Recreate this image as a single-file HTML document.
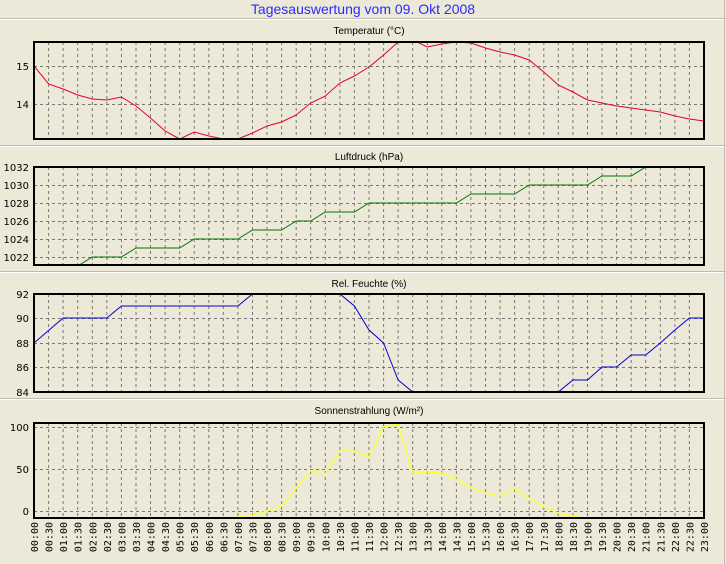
<!DOCTYPE html>
<html><head><meta charset="utf-8"><style>
html,body{margin:0;padding:0;background:#ECE9D8;}
svg{display:block;font-family:"Liberation Sans",sans-serif;}
</style></head><body>
<svg width="726" height="564" viewBox="0 0 726 564" xmlns="http://www.w3.org/2000/svg">
<rect width="726" height="564" fill="#ECE9D8"/>
<defs>
<clipPath id="c1"><rect x="34" y="42" width="670" height="97"/></clipPath>
<clipPath id="c2"><rect x="34" y="167" width="670" height="98"/></clipPath>
<clipPath id="c3"><rect x="34" y="294" width="670" height="98"/></clipPath>
<clipPath id="c4"><rect x="34" y="423" width="670" height="95"/></clipPath>
<g id="vg"><path d="M48.6 0V1M63.1 0V1M77.7 0V1M92.3 0V1M106.8 0V1M121.4 0V1M136 0V1M150.5 0V1M165.1 0V1M179.7 0V1M194.2 0V1M208.8 0V1M223.3 0V1M237.9 0V1M252.5 0V1M267 0V1M281.6 0V1M296.2 0V1M310.7 0V1M325.3 0V1M339.9 0V1M354.4 0V1M369 0V1M383.6 0V1M398.1 0V1M412.7 0V1M427.3 0V1M441.8 0V1M456.4 0V1M470.9 0V1M485.5 0V1M500.1 0V1M514.6 0V1M529.2 0V1M543.8 0V1M558.3 0V1M572.9 0V1M587.5 0V1M602 0V1M616.6 0V1M631.2 0V1M645.7 0V1M660.3 0V1M674.9 0V1M689.4 0V1" stroke="#777" stroke-width="1" stroke-dasharray="3,3" vector-effect="non-scaling-stroke"/></g>
</defs>
<!-- separators -->
<g stroke="#bdbcb0" stroke-width="1">
<line x1="0" y1="18.5" x2="726" y2="18.5"/>
<line x1="0" y1="145.5" x2="726" y2="145.5"/>
<line x1="0" y1="271.5" x2="726" y2="271.5"/>
<line x1="0" y1="398.5" x2="726" y2="398.5"/>
<line x1="724.5" y1="0" x2="724.5" y2="564"/>
</g>
<g stroke="#fff" stroke-width="1">
<line x1="0" y1="19.5" x2="724" y2="19.5"/>
<line x1="0" y1="146.5" x2="724" y2="146.5"/>
<line x1="0" y1="272.5" x2="724" y2="272.5"/>
<line x1="0" y1="399.5" x2="724" y2="399.5"/>
</g>
<text x="363" y="14" font-size="14" fill="#2a2aff" text-anchor="middle">Tagesauswertung vom 09. Okt 2008</text>

<g font-size="10" fill="#000" text-anchor="middle">
<text x="369" y="34">Temperatur (°C)</text>
<text x="369" y="160">Luftdruck (hPa)</text>
<text x="369" y="287">Rel. Feuchte (%)</text>
<text x="369" y="414">Sonnenstrahlung (W/m²)</text>
</g>

<!-- vertical grids -->
<use href="#vg" transform="translate(0,42) scale(1,97)"/>
<use href="#vg" transform="translate(0,167) scale(1,98)"/>
<use href="#vg" transform="translate(0,294) scale(1,98)"/>
<use href="#vg" transform="translate(0,423) scale(1,95)"/>
<!-- horizontal grids -->
<g stroke="#777" stroke-dasharray="3,3" stroke-width="1">
<path d="M34 66.5H704M34 104.5H704"/>
<path d="M34 185.5H704M34 203.5H704M34 221.5H704M34 239.5H704M34 257.5H704"/>
<path d="M34 318.5H704M34 343.5H704M34 367.5H704"/>
<path d="M34 427.5H704M34 469.5H704M34 511.5H704"/>
</g>

<!-- y labels -->
<g font-family="'DejaVu Sans','Liberation Sans',sans-serif" font-size="10" fill="#000" text-anchor="end">
<text x="29" y="70">15</text><text x="29" y="108">14</text>
<text x="29" y="171">1032</text><text x="29" y="189">1030</text><text x="29" y="207">1028</text><text x="29" y="225">1026</text><text x="29" y="243">1024</text><text x="29" y="261">1022</text>
<text x="29" y="298">92</text><text x="29" y="322">90</text><text x="29" y="347">88</text><text x="29" y="371">86</text><text x="29" y="396">84</text>
<text x="29" y="431">100</text><text x="29" y="473">50</text><text x="29" y="515">0</text>
</g>

<!-- series -->
<polyline clip-path="url(#c1)" fill="none" stroke="#e8002a" stroke-width="1" points="34,66 48.6,84 63.1,89 77.7,95 92.3,99 106.8,100 121.4,97 136,106 150.5,118 165.1,131 179.7,139 194.2,132 208.8,136 223.3,139 237.9,139 252.5,133 267,126 281.6,122 296.2,115 310.7,103 325.3,96 339.9,83 354.4,76 369,67 383.6,55 398.1,42 412.7,40 427.3,47 441.8,44 456.4,42 470.9,43 485.5,48 500.1,52 514.6,55 529.2,60 543.8,72 558.3,85 572.9,92 587.5,100 602,103 616.6,106 631.2,108 645.7,110 660.3,112 674.9,116 689.4,119 704,121"/>
<polyline clip-path="url(#c2)" fill="none" stroke="#007800" stroke-width="1" points="63.1,275 77.7,266 92.3,257 121.4,257 136,248 179.7,248 194.2,239 237.9,239 252.5,230 281.6,230 296.2,221 310.7,221 325.3,212 354.4,212 369,203 456.4,203 470.9,194 514.6,194 529.2,185 587.5,185 602,176 631.2,176 645.7,167 660.3,158"/>
<polyline clip-path="url(#c3)" fill="none" stroke="#0000d0" stroke-width="1" points="34,343 63.1,318 106.8,318 121.4,306 237.9,306 252.5,294 267,282 325.3,282 339.9,294 354.4,306 369,330 383.6,343 398.1,380 412.7,392 558.3,392 572.9,380 587.5,380 602,367 616.6,367 631.2,355 645.7,355 660.3,343 674.9,330 689.4,318 704,318"/>
<polyline clip-path="url(#c4)" fill="none" stroke="#ffff30" stroke-width="1.3" points="223.3,519 237.9,517 252.5,515 267,511 281.6,506 296.2,488 310.7,471 325.3,474 339.9,451 354.4,451 369,457 383.6,427 398.1,424 412.7,473 427.3,472 441.8,473 456.4,479 470.9,487 485.5,493 500.1,496 514.6,489 529.2,498 543.8,507 558.3,513 572.9,516 587.5,519"/>

<!-- frames -->
<g fill="none" stroke="#000" stroke-width="2">
<rect x="34" y="42" width="670" height="97"/>
<rect x="34" y="167" width="670" height="98"/>
<rect x="34" y="294" width="670" height="98"/>
<rect x="34" y="423" width="670" height="95"/>
</g>

<!-- x labels -->
<g font-family="'DejaVu Sans Mono','Liberation Mono',monospace" font-size="10" fill="#000" text-anchor="end">
<text transform="translate(38,522) rotate(-90)">00:00</text>
<text transform="translate(52.6,522) rotate(-90)">00:30</text>
<text transform="translate(67.1,522) rotate(-90)">01:00</text>
<text transform="translate(81.7,522) rotate(-90)">01:30</text>
<text transform="translate(96.3,522) rotate(-90)">02:00</text>
<text transform="translate(110.8,522) rotate(-90)">02:30</text>
<text transform="translate(125.4,522) rotate(-90)">03:00</text>
<text transform="translate(140,522) rotate(-90)">03:30</text>
<text transform="translate(154.5,522) rotate(-90)">04:00</text>
<text transform="translate(169.1,522) rotate(-90)">04:30</text>
<text transform="translate(183.7,522) rotate(-90)">05:00</text>
<text transform="translate(198.2,522) rotate(-90)">05:30</text>
<text transform="translate(212.8,522) rotate(-90)">06:00</text>
<text transform="translate(227.3,522) rotate(-90)">06:30</text>
<text transform="translate(241.9,522) rotate(-90)">07:00</text>
<text transform="translate(256.5,522) rotate(-90)">07:30</text>
<text transform="translate(271,522) rotate(-90)">08:00</text>
<text transform="translate(285.6,522) rotate(-90)">08:30</text>
<text transform="translate(300.2,522) rotate(-90)">09:00</text>
<text transform="translate(314.7,522) rotate(-90)">09:30</text>
<text transform="translate(329.3,522) rotate(-90)">10:00</text>
<text transform="translate(343.9,522) rotate(-90)">10:30</text>
<text transform="translate(358.4,522) rotate(-90)">11:00</text>
<text transform="translate(373,522) rotate(-90)">11:30</text>
<text transform="translate(387.6,522) rotate(-90)">12:00</text>
<text transform="translate(402.1,522) rotate(-90)">12:30</text>
<text transform="translate(416.7,522) rotate(-90)">13:00</text>
<text transform="translate(431.3,522) rotate(-90)">13:30</text>
<text transform="translate(445.8,522) rotate(-90)">14:00</text>
<text transform="translate(460.4,522) rotate(-90)">14:30</text>
<text transform="translate(474.9,522) rotate(-90)">15:00</text>
<text transform="translate(489.5,522) rotate(-90)">15:30</text>
<text transform="translate(504.1,522) rotate(-90)">16:00</text>
<text transform="translate(518.6,522) rotate(-90)">16:30</text>
<text transform="translate(533.2,522) rotate(-90)">17:00</text>
<text transform="translate(547.8,522) rotate(-90)">17:30</text>
<text transform="translate(562.3,522) rotate(-90)">18:00</text>
<text transform="translate(576.9,522) rotate(-90)">18:30</text>
<text transform="translate(591.5,522) rotate(-90)">19:00</text>
<text transform="translate(606,522) rotate(-90)">19:30</text>
<text transform="translate(620.6,522) rotate(-90)">20:00</text>
<text transform="translate(635.2,522) rotate(-90)">20:30</text>
<text transform="translate(649.7,522) rotate(-90)">21:00</text>
<text transform="translate(664.3,522) rotate(-90)">21:30</text>
<text transform="translate(678.9,522) rotate(-90)">22:00</text>
<text transform="translate(693.4,522) rotate(-90)">22:30</text>
<text transform="translate(708,522) rotate(-90)">23:00</text>
</g>
</svg>
</body></html>
